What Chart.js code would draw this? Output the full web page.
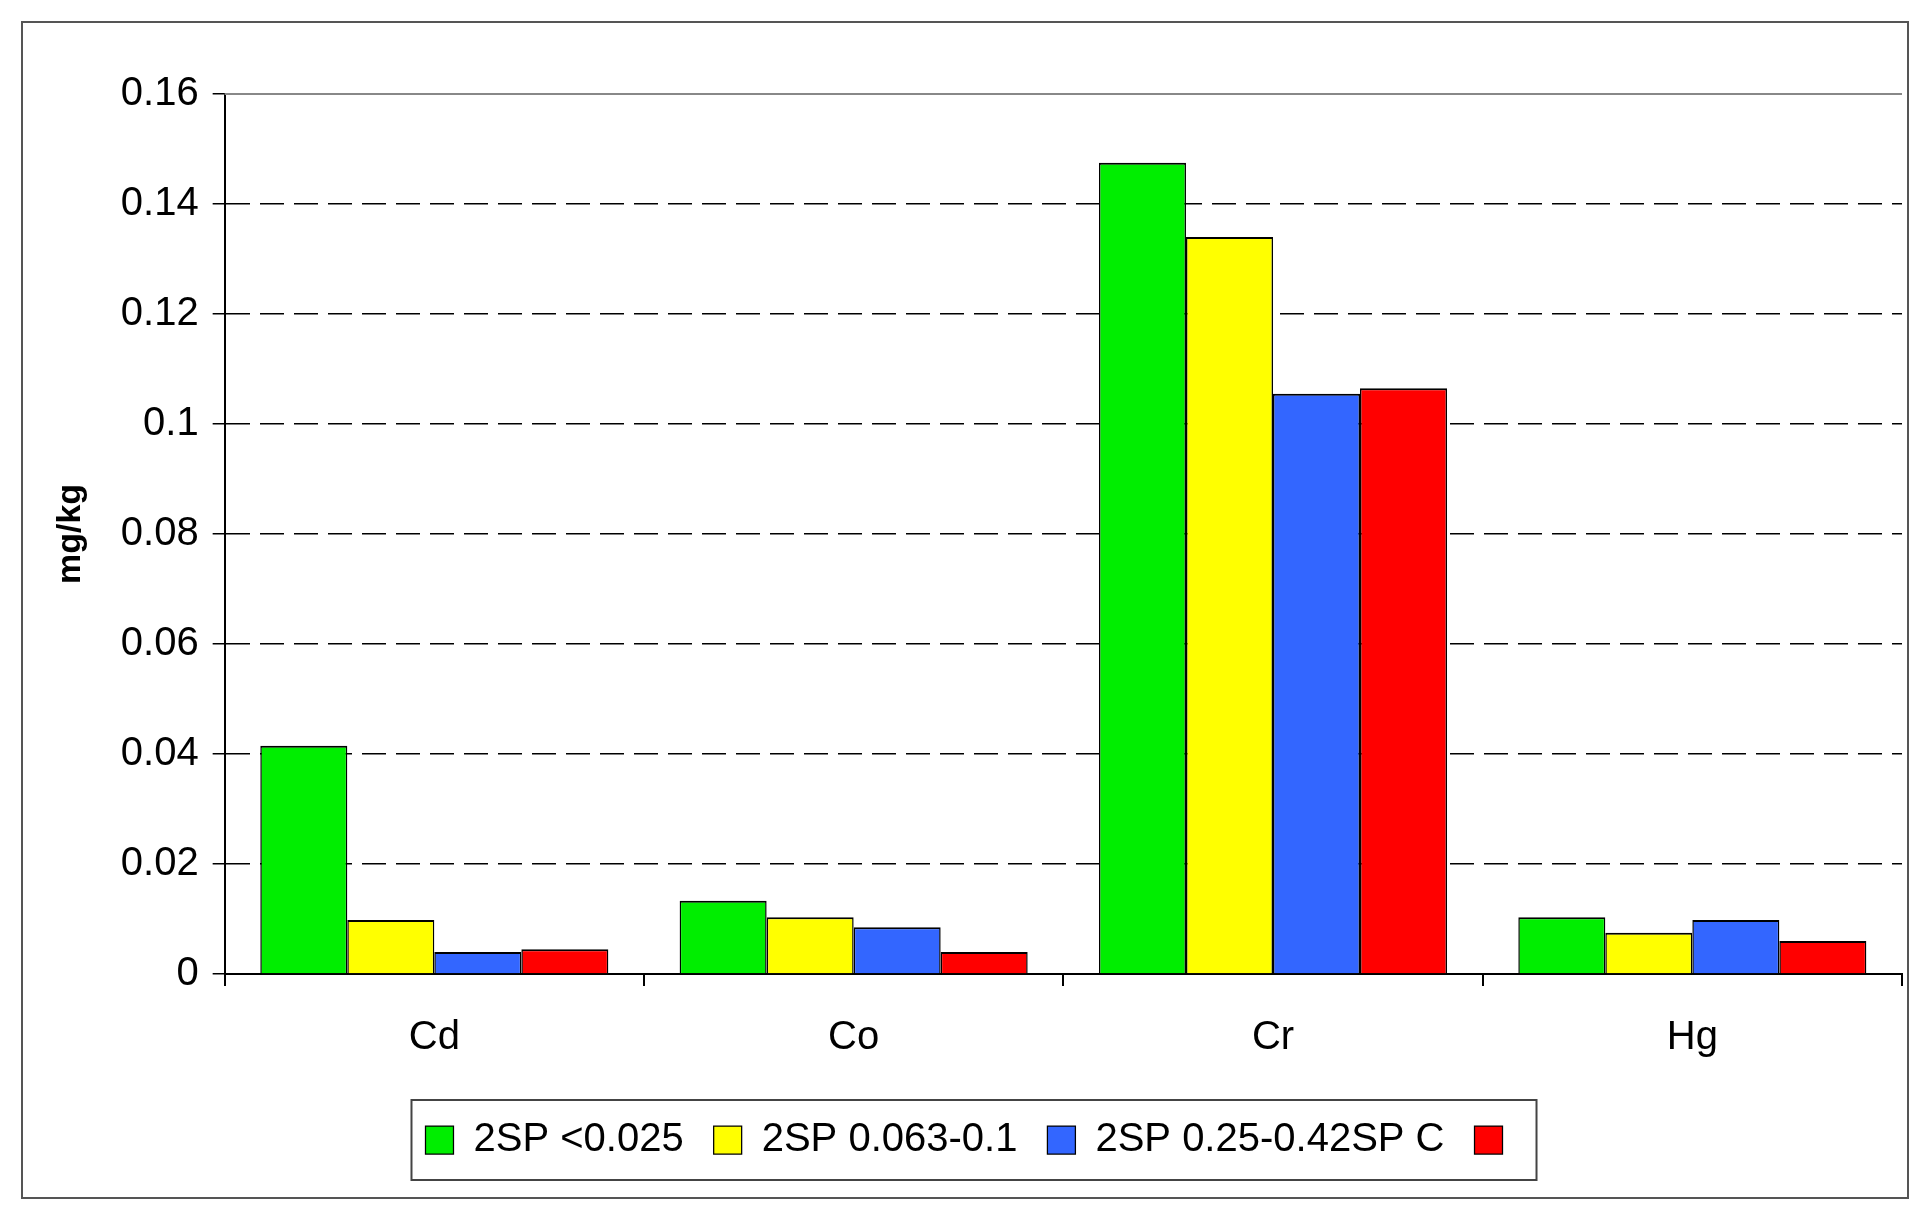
<!DOCTYPE html>
<html><head><meta charset="utf-8">
<script src="https://cdn.jsdelivr.net/npm/chart.js@4"></script>
<style>html,body{margin:0;padding:0;background:#fff}#w{width:1930px;height:1220px}</style>
</head><body><div id="w"><canvas id="c"></canvas></div>
<script>
const categories = ["Cd","Co","Cr","Hg"];
const seriesLabels = ["2SP <0.025","2SP 0.063-0.1","2SP 0.25-0.42SP C",""];
const s1 = [0.0415,0.0133,0.1475,0.0103];
const s2 = [0.0098,0.0103,0.134,0.0075];
const s3 = [0.0040,0.0085,0.1055,0.0098];
const s4 = [0.0045,0.0040,0.1065,0.0060];
const colors = ["#00ee00","#ffff00","#3366ff","#ff0000"];
const yMax = 0.16, yStep = 0.02;

const frame = {
  id:'frame',
  beforeDraw(ch){
    const c=ch.ctx; c.save(); c.fillStyle='#fff'; c.fillRect(0,0,ch.width,ch.height);
    c.strokeStyle='#555'; c.lineWidth=2; c.strokeRect(22,22,1886,1176); c.restore();
  },
  afterDatasetsDraw(ch){
    const c=ch.ctx, a=ch.chartArea, y=ch.scales.y.getPixelForValue(yMax);
    c.save(); c.strokeStyle='#888'; c.lineWidth=2; c.beginPath(); c.moveTo(a.left,y); c.lineTo(a.right,y); c.stroke();
    const hb=ch.legend.legendHitBoxes;
    if(hb&&hb.length){
      const l=Math.min(...hb.map(b=>b.left))-14, r=Math.max(...hb.map(b=>b.left+b.width))+14;
      const t=Math.min(...hb.map(b=>b.top))-20, bt=Math.max(...hb.map(b=>b.top+b.height))+20;
      c.strokeStyle='#444'; c.lineWidth=2; c.strokeRect(l,t,r-l,bt-t);
    }
    c.restore();
  }
};

new Chart(document.getElementById('c'),{
  type:'bar',
  data:{labels:categories,datasets:[s1,s2,s3,s4].map((d,i)=>({label:seriesLabels[i],data:d,backgroundColor:colors[i],borderColor:'#000',borderWidth:{top:2,left:1.5,right:1.5,bottom:0},barPercentage:1,categoryPercentage:0.83}))},
  options:{
    responsive:true,maintainAspectRatio:false,animation:false,devicePixelRatio:1,
    layout:{padding:{left:46,right:28,top:94,bottom:50}},
    plugins:{tooltip:{enabled:false},
      legend:{position:'bottom',labels:{font:{family:'Liberation Sans',size:40},color:'#000',boxWidth:28,boxHeight:28,padding:30,useBorderRadius:false}}},
    scales:{
      x:{offset:true,grid:{display:true,drawOnChartArea:false,offset:true,tickLength:12,color:'#000',lineWidth:2},
         border:{color:'#000',width:2},
         ticks:{font:{family:'Liberation Sans',size:40},color:'#000',padding:28}},
      y:{min:0,max:yMax,
         ticks:{stepSize:yStep,font:{family:'Liberation Sans',size:40},color:'#000',padding:14,callback:v=>String(+v.toFixed(2))},
         grid:{color:ctx=>(ctx.tick&&(Math.abs(ctx.tick.value-yMax)<1e-9||ctx.tick.value===0))?'rgba(0,0,0,0)':'#000',lineWidth:1.5,tickLength:12,tickColor:'#000'},
         border:{color:'#000',width:2,dash:[24,10]},
         title:{display:true,text:'mg/kg',font:{family:'Liberation Sans',size:34,weight:'bold'},color:'#000',padding:{bottom:16}}}
    }
  },
  plugins:[frame]
});
</script></body></html>
